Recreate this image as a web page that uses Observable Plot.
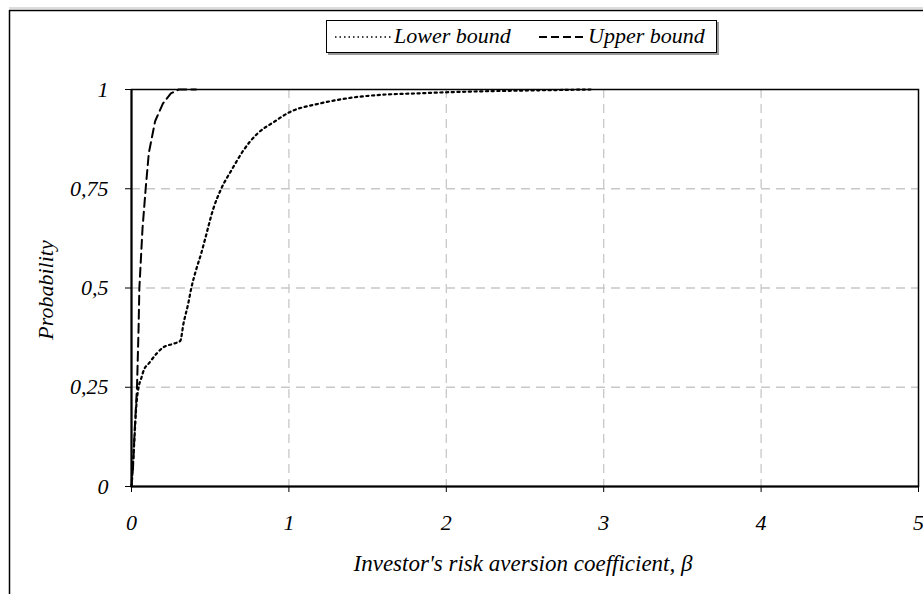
<!DOCTYPE html>
<html>
<head>
<meta charset="utf-8">
<script src="https://cdn.jsdelivr.net/npm/d3@7"></script>
<script src="https://cdn.jsdelivr.net/npm/@observablehq/plot@0.6"></script>
<style>
  html, body { margin: 0; padding: 0; background: #fff; }
  #chart { width: 923px; height: 594px; overflow: hidden; }
  #chart svg text { font-family: "Liberation Serif", "Times New Roman", Times, "DejaVu Serif", serif !important; font-style: italic; fill: #000; }
</style>
</head>
<body>
<div id="chart"></div>
<script>
// ---- Data ----
const lowerBeta = [0, 0.01, 0.02, 0.03, 0.045, 0.06, 0.08, 0.11, 0.16, 0.2, 0.27, 0.31, 0.33, 0.36, 0.38, 0.41, 0.445, 0.47, 0.52, 0.57, 0.64, 0.71, 0.8, 0.9, 1.0, 1.2, 1.41, 1.6, 1.8, 2.0, 2.3, 2.6, 2.92];
const lowerProb = [0, 0.06, 0.13, 0.2, 0.25, 0.27, 0.295, 0.31, 0.335, 0.35, 0.36, 0.367, 0.41, 0.46, 0.5, 0.545, 0.59, 0.627, 0.70, 0.75, 0.80, 0.846, 0.889, 0.917, 0.942, 0.965, 0.98, 0.987, 0.99, 0.993, 0.996, 0.998, 1.0];
const upperBeta = [0, 0.01, 0.02, 0.035, 0.045, 0.05, 0.07, 0.09, 0.11, 0.15, 0.2, 0.25, 0.3, 0.41];
const upperProb = [0, 0.05, 0.14, 0.25, 0.4, 0.5, 0.65, 0.75, 0.84, 0.92, 0.965, 0.99, 1.0, 1.0];
const xTicks = [0, 1, 2, 3, 4, 5];
const yTicks = [0, 0.25, 0.5, 0.75, 1];
const seriesNames = ["Lower bound", "Upper bound"];
const xLabel = "Investor's risk aversion coefficient, \u03b2";
const yLabel = "Probability";

const lower = lowerBeta.map((b, i) => ({beta: b, p: lowerProb[i]}));
const upper = upperBeta.map((b, i) => ({beta: b, p: upperProb[i]}));

const FONT = "Liberation Serif, Times New Roman, serif";
const FS = 22;
const fmt = d => String(d).replace(".", ",");

const plot = Plot.plot({
  width: 923,
  height: 594,
  marginLeft: 131,
  marginRight: 5,
  marginTop: 89,
  marginBottom: 108,
  style: {fontFamily: FONT, fontSize: FS + "px", fontStyle: "italic", background: "#fff", color: "#000"},
  x: {domain: [0, 5], label: null},
  y: {domain: [0, 1], label: null},
  marks: [
    Plot.gridX(xTicks.filter(d => d > 0 && d < 5), {stroke: "#c8c8c8", strokeOpacity: 1, strokeDasharray: "9,6", strokeWidth: 1.3}),
    Plot.gridY(yTicks.filter(d => d > 0 && d < 1), {stroke: "#c8c8c8", strokeOpacity: 1, strokeDasharray: "9,6", strokeWidth: 1.3}),
    Plot.frame({stroke: "#000", strokeWidth: 1.5}),
    Plot.line(lower, {x: "beta", y: "p", stroke: "#000", strokeWidth: 2.2, strokeDasharray: "2.2,3.5", curve: "monotone-x"}),
    Plot.line(upper, {x: "beta", y: "p", stroke: "#000", strokeWidth: 2, strokeDasharray: "9,5", curve: "linear"}),
    Plot.axisX({ticks: xTicks, tickFormat: d => d, tickSize: 6, tickPadding: 22, label: null, fontSize: FS}),
    Plot.axisY({ticks: yTicks, tickFormat: fmt, tickSize: 6, tickPadding: 17, label: null, fontSize: FS}),
    Plot.ruleX([0], {stroke: "#000", strokeWidth: 2}),
    Plot.ruleY([0], {stroke: "#000", strokeWidth: 2})
  ]
});

const svg = d3.select(plot);
// Outer frame
svg.append("line").attr("x1", 9.5).attr("x2", 9.5).attr("y1", 10).attr("y2", 594).attr("stroke", "#000").attr("stroke-width", 1.5);
svg.append("line").attr("x1", 9).attr("x2", 923).attr("y1", 10.5).attr("y2", 10.5).attr("stroke", "#000").attr("stroke-width", 1.5);
svg.append("line").attr("x1", 9).attr("x2", 923).attr("y1", 8).attr("y2", 8).attr("stroke", "#bbb").attr("stroke-width", 1);

// Axis labels
svg.append("text").attr("x", 523).attr("y", 571).attr("text-anchor", "middle")
  .attr("font-size", 23).text(xLabel);
svg.append("text").attr("transform", "translate(53,290) rotate(-90)").attr("text-anchor", "middle")
  .attr("font-size", FS).text(yLabel);

// Legend
const lg = svg.append("g");
lg.append("rect").attr("x", 328).attr("y", 22).attr("width", 391).attr("height", 33).attr("fill", "#999");
lg.append("rect").attr("x", 326.5).attr("y", 20.5).attr("width", 390).attr("height", 32).attr("fill", "#fff").attr("stroke", "#000").attr("stroke-width", 1);
lg.append("line").attr("x1", 335).attr("x2", 391).attr("y1", 37).attr("y2", 37).attr("stroke", "#000").attr("stroke-width", 1.5).attr("stroke-dasharray", "1.5,3");
lg.append("text").attr("x", 394).attr("y", 43).attr("text-anchor", "start").attr("font-size", FS).text(seriesNames[0]);
lg.append("line").attr("x1", 539).attr("x2", 584).attr("y1", 37).attr("y2", 37).attr("stroke", "#000").attr("stroke-width", 2).attr("stroke-dasharray", "8,4");
lg.append("text").attr("x", 588).attr("y", 43).attr("text-anchor", "start").attr("font-size", FS).text(seriesNames[1]);

document.getElementById("chart").appendChild(plot);
</script>
</body>
</html>
